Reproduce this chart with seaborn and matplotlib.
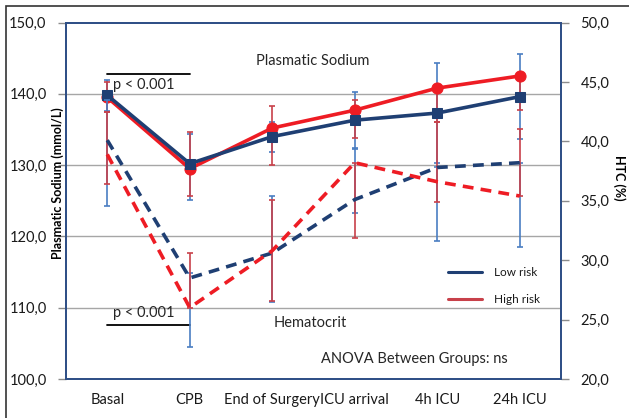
import numpy as np
import pandas as pd
import matplotlib
matplotlib.use("Agg")
import matplotlib.pyplot as plt
import seaborn as sns
from matplotlib.lines import Line2D
from matplotlib.patches import Rectangle
from matplotlib.ticker import FixedLocator, FuncFormatter

# ---------------- data ----------------
categories = ["Basal", "CPB", "End of Surgery", "ICU arrival", "4h ICU", "24h ICU"]

sodium_low = [139.8, 130.2, 134.0, 136.3, 137.3, 139.6]
sodium_high = [139.5, 129.5, 135.2, 137.7, 140.8, 142.5]
hct_low = [40.1, 28.5, 30.6, 35.1, 37.8, 38.2]
hct_high = [38.9, 26.0, 30.8, 38.2, 36.6, 35.4]

# error bars (minus, plus)
sodium_low_err_minus = [2.2, 5.1, 2.1, 4.0, 7.0, 6.0]
sodium_low_err_plus = [2.2, 4.1, 2.1, 4.0, 7.0, 6.0]
sodium_high_err_minus = [2.0, 3.8, 5.2, 3.9, 4.7, 4.8]
sodium_high_err_plus = [2.2, 5.2, 3.1, 1.4, 0.5, 0.0]
hct_low_err_minus = [5.5, 5.8, 4.1, 1.1, 6.2, 7.1]
hct_low_err_plus = [3.4, 0.4, 4.8, 4.3, 0.0, 0.0]
hct_high_err_minus = [2.5, 0.0, 4.2, 6.3, 1.7, 0.0]
hct_high_err_plus = [3.6, 4.6, 4.3, 0.0, 5.0, 5.6]

series_names = ["Low risk", "High risk"]
left_ticks = [100, 110, 120, 130, 140, 150]
right_ticks = [20, 25, 30, 35, 40, 45, 50]

# ---------------- style ----------------
sns.set_style("white")
plt.rcParams["font.family"] = ["Lato", "DejaVu Sans"]

NAVY = "#1F3F73"
RED = "#EE1C24"
BAR_BLUE = "#4A7EC2"
BAR_RED = "#C8414A"
SPINE = "#2F4F86"

x = np.arange(len(categories))
df = pd.DataFrame({
    "x": np.concatenate([x, x]),
    "sodium": sodium_low + sodium_high,
    "hct": hct_low + hct_high,
    "group": [series_names[0]] * len(x) + [series_names[1]] * len(x),
})

fig = plt.figure(figsize=(6.29, 4.18), dpi=100)
ax = fig.add_axes([66 / 629, 1 - 379 / 418, 495 / 629, (379 - 22.5) / 418])
ax2 = ax.twinx()

# gridlines
for v in [110, 120, 130, 140]:
    ax.axhline(v, color="#A6A6A6", lw=1.0, zorder=0)

# sodium error bars
ax.errorbar(x, sodium_low, yerr=[sodium_low_err_minus, sodium_low_err_plus], fmt="none",
            ecolor=BAR_BLUE, elinewidth=1.2, capsize=2.5, capthick=1.2, zorder=1)
ax.errorbar(x, sodium_high, yerr=[sodium_high_err_minus, sodium_high_err_plus], fmt="none",
            ecolor=BAR_RED, elinewidth=1.2, capsize=2.5, capthick=1.2, zorder=1.5)

# sodium lines
sns.lineplot(data=df[df.group == "High risk"], x="x", y="sodium", ax=ax, color=RED,
             lw=2.6, marker="o", markersize=8, markeredgecolor=RED, zorder=3, legend=False)
sns.lineplot(data=df[df.group == "Low risk"], x="x", y="sodium", ax=ax, color=NAVY,
             lw=2.6, marker="s", markersize=7.5, markeredgecolor=NAVY, zorder=4, legend=False)

# hematocrit lines (dashed)
sns.lineplot(data=df[df.group == "Low risk"], x="x", y="hct", ax=ax2, color=NAVY,
             lw=2.6, zorder=3, legend=False)
sns.lineplot(data=df[df.group == "High risk"], x="x", y="hct", ax=ax2, color=RED,
             lw=2.6, zorder=4, legend=False)
for ln in ax2.get_lines():
    ln.set_dashes((3.0, 2.0))

# hematocrit error bars
ax2.errorbar(x, hct_low, yerr=[hct_low_err_minus, hct_low_err_plus], fmt="none",
             ecolor=BAR_BLUE, elinewidth=1.2, capsize=2.5, capthick=1.2, zorder=1)
ax2.errorbar(x, hct_high, yerr=[hct_high_err_minus, hct_high_err_plus], fmt="none",
             ecolor=BAR_RED, elinewidth=1.2, capsize=2.5, capthick=1.2, zorder=1.5)

# axes limits & ticks
ax.set_xlim(-0.5, len(categories) - 0.5)
ax.set_ylim(100, 150)
ax2.set_ylim(20, 50)
ax.yaxis.set_major_locator(FixedLocator(left_ticks))
ax2.yaxis.set_major_locator(FixedLocator(right_ticks))
comma = FuncFormatter(lambda v, p: f"{v:.1f}".replace(".", ","))
ax.yaxis.set_major_formatter(comma)
ax2.yaxis.set_major_formatter(comma)
ax.set_xticks(x)
ax.set_xticklabels(categories)
ax.set_xticks(np.arange(-0.5, len(categories)), minor=True)
ax.tick_params(axis="x", which="major", length=0, pad=10, labelsize=10.5, labelcolor="#1a1a1a")
ax.tick_params(axis="x", which="minor", length=5, width=1, color="#8C8C8C", direction="out")
ax.tick_params(axis="y", length=6, width=1, color="#8C8C8C", direction="out", pad=8,
               labelsize=10.5, labelcolor="#1a1a1a")
ax2.tick_params(axis="y", length=6, width=1, color="#8C8C8C", direction="out", pad=8,
                labelsize=10.5, labelcolor="#1a1a1a")
ax.set_xlabel("")
ax2.set_xlabel("")

for a in (ax, ax2):
    for s in a.spines.values():
        s.set_visible(True)
        s.set_color(SPINE)
        s.set_linewidth(1.3)

ax.set_ylabel("Plasmatic Sodium (mmol/L)", fontsize=9, fontweight="bold", color="black")
ax.yaxis.label.set_va("center")
ax.yaxis.set_label_coords(-0.016, 1 - (183 - 22.5) / 356.5)
ax2.set_ylabel("HTC (%)", fontsize=9, fontweight="bold", color="black", rotation=270)
ax2.yaxis.label.set_va("center")
ax2.yaxis.set_label_coords(1 + (619 - 561) / 495, 1 - (178 - 22.5) / 356.5)

# annotations (axes fraction coords)
def fx(px):
    return (px - 66) / 495

def fy(py):
    return 1 - (py - 22.5) / 356.5

ax.text(fx(313), fy(61), "Plasmatic Sodium", ha="center", va="center", fontsize=10.5,
        transform=ax.transAxes)
ax.plot([fx(107), fx(190)], [fy(74), fy(74)], color="black", lw=1.3, transform=ax.transAxes,
        clip_on=False)
ax.text(fx(113), fy(85), "p < 0.001", ha="left", va="center", fontsize=10.5, transform=ax.transAxes)
ax.text(fx(113), fy(313), "p < 0.001", ha="left", va="center", fontsize=10.5, transform=ax.transAxes)
ax.plot([fx(107), fx(190)], [fy(325), fy(325)], color="black", lw=1.3, transform=ax.transAxes,
        clip_on=False)
ax.text(fx(274), fy(323), "Hematocrit", ha="left", va="center", fontsize=10.5, transform=ax.transAxes)
ax.text(fx(321), fy(359), "ANOVA Between Groups: ns", ha="left", va="center", fontsize=10.5,
        transform=ax.transAxes)

# legend
handles = [Line2D([0], [0], color=NAVY, lw=2.2), Line2D([0], [0], color=BAR_RED, lw=2.2)]
leg = ax2.legend(handles, series_names, loc="center left",
                 bbox_to_anchor=(fx(437), fy(286)), frameon=False, fontsize=8.5,
                 handlelength=2.9, handletextpad=1.0, labelspacing=1.3)
for t in leg.get_texts():
    t.set_color("#1a1a1a")

# outer figure frame
fig.patches.append(Rectangle((6 / 629, -0.05), 1.2, 1 - 6 / 418 + 0.05, transform=fig.transFigure,
                             fill=False, edgecolor="#333333", lw=1.2, clip_on=False))

fig.savefig("out.png", dpi=100)
